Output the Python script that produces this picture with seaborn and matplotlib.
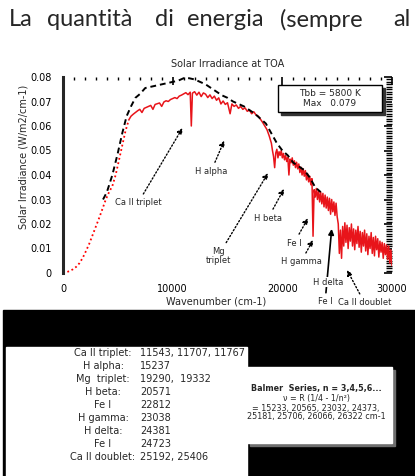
import numpy as np
import pandas as pd
import seaborn as sns
import matplotlib.pyplot as plt
from matplotlib.patches import Rectangle
from matplotlib.ticker import MultipleLocator

# spettro solare misurato (parte bassa, punteggiata)
red_lo_wn = [0, 300, 600, 900, 1200, 1500, 1800, 2100, 2400, 2700, 3000,
             3300, 3600, 3900, 4200, 4500, 4800, 5100, 5400, 5700, 6000]
red_lo_irr = [0.0, 0.0003, 0.0008, 0.0015, 0.0025, 0.0040, 0.0062, 0.0090,
              0.0120, 0.0155, 0.0190, 0.0225, 0.0262, 0.0300, 0.0330, 0.0355,
              0.0400, 0.0460, 0.0520, 0.0580, 0.0625]

# spettro solare misurato (parte continua)
red_wn = [6000, 6200, 6400, 6600, 6800, 7000, 7200, 7400, 7600, 7800,
          8000, 8200, 8400, 8600, 8800, 9000, 9200, 9400, 9600, 9800,
          10000, 10200, 10400, 10600, 10800, 11000, 11200, 11400, 11600, 11700,
          11800, 12000, 12200, 12400, 12600, 12800, 13000, 13200, 13400, 13600,
          13800, 14000, 14200, 14400, 14600, 14800, 15000, 15237, 15400, 15600,
          15800, 16000, 16200, 16400, 16600, 16800, 17000, 17200, 17400, 17600,
          17800, 18000, 18200, 18400, 18600, 18800, 19000,
          19100, 19200, 19300, 19400, 19500, 19600, 19700, 19800, 19900, 20000,
          20100, 20200, 20300, 20400, 20500, 20600, 20700, 20800, 20900, 21000,
          21100, 21200, 21300, 21400, 21500, 21600, 21700, 21800, 21900, 22000,
          22100, 22200, 22300, 22400, 22500, 22600, 22700, 22800, 22900, 23000,
          23100, 23200, 23300, 23400, 23500, 23600, 23700, 23800, 23900, 24000,
          24100, 24200, 24300, 24400, 24500, 24600, 24700, 24800, 24900, 25000,
          25100, 25200, 25300, 25400, 25500, 25600, 25700, 25800, 25900, 26000,
          26100, 26200, 26300, 26400, 26500, 26600, 26700, 26800, 26900, 27000,
          27100, 27200, 27300, 27400, 27500, 27600, 27700, 27800, 27900, 28000,
          28100, 28200, 28300, 28400, 28500, 28600, 28700, 28800, 28900, 29000,
          29100, 29200, 29300, 29400, 29500, 29600, 29700, 29800, 29900, 30000]
red_irr = [0.0625, 0.0640, 0.0648, 0.0655, 0.0662, 0.0668, 0.0655, 0.0672, 0.0676, 0.0680,
           0.0684, 0.0668, 0.0688, 0.0691, 0.0694, 0.0680, 0.0698, 0.0703, 0.0700, 0.0708,
           0.0712, 0.0716, 0.0712, 0.0722, 0.0726, 0.0731, 0.0736, 0.0728, 0.0738, 0.0600,
           0.0734, 0.0740, 0.0726, 0.0738, 0.0720, 0.0735, 0.0730, 0.0716, 0.0727, 0.0712,
           0.0722, 0.0705, 0.0715, 0.0690, 0.0702, 0.0688, 0.0695, 0.0650, 0.0690, 0.0680,
           0.0686, 0.0672, 0.0680, 0.0668, 0.0674, 0.0660, 0.0665, 0.0650, 0.0658, 0.0645,
           0.0640, 0.0628, 0.0615, 0.0600, 0.0585, 0.0560, 0.0530,
           0.0500, 0.0475, 0.0430, 0.0490, 0.0505, 0.0470, 0.0495, 0.0480, 0.0500, 0.0470,
           0.0488, 0.0462, 0.0480, 0.0455, 0.0472, 0.0400, 0.0465, 0.0450, 0.0470, 0.0440,
           0.0458, 0.0430, 0.0452, 0.0425, 0.0445, 0.0410, 0.0432, 0.0400, 0.0425, 0.0395,
           0.0418, 0.0380, 0.0405, 0.0372, 0.0395, 0.0360, 0.0385, 0.0150, 0.0340, 0.0310,
           0.0345, 0.0300, 0.0335, 0.0290, 0.0330, 0.0282, 0.0325, 0.0270, 0.0318, 0.0265,
           0.0310, 0.0255, 0.0305, 0.0240, 0.0300, 0.0250, 0.0290, 0.0235, 0.0285, 0.0230,
           0.0200, 0.0080, 0.0175, 0.0060, 0.0190, 0.0110, 0.0205, 0.0125, 0.0195, 0.0100,
           0.0185, 0.0130, 0.0200, 0.0110, 0.0180, 0.0095, 0.0175, 0.0120, 0.0190, 0.0105,
           0.0170, 0.0085, 0.0165, 0.0110, 0.0175, 0.0090, 0.0160, 0.0075, 0.0150, 0.0100,
           0.0165, 0.0080, 0.0145, 0.0070, 0.0150, 0.0095, 0.0140, 0.0065, 0.0130, 0.0085,
           0.0125, 0.0060, 0.0120, 0.0075, 0.0115, 0.0055, 0.0110, 0.0040, 0.0095, 0.0030]

# corpo nero (tratteggiato nero)
bb_wn = [3650, 4000, 4500, 5000, 5400, 5800, 6200, 6600, 7000, 7500,
         8000, 8500, 9000, 9500, 10000, 10500, 11000, 11500, 12000, 12500,
         13000, 13500, 14000, 14500, 15000, 15500, 16000, 16500, 17000, 17500,
         18000, 18500, 19000, 19500, 20000, 20500, 21000, 21500, 22000, 22500,
         23000, 23500]
bb_irr = [0.030, 0.033, 0.040, 0.049, 0.057, 0.064, 0.068, 0.0715, 0.073, 0.0755,
          0.076, 0.0765, 0.077, 0.0775, 0.078, 0.0785, 0.0795, 0.0795, 0.079, 0.078,
          0.077, 0.0755, 0.074, 0.0725, 0.0715, 0.070, 0.069, 0.068, 0.0665, 0.065,
          0.063, 0.061, 0.057, 0.053, 0.050, 0.048, 0.045, 0.0435, 0.042, 0.039,
          0.035, 0.033]

yticks = [0, 0.01, 0.02, 0.03, 0.04, 0.05, 0.06, 0.07, 0.08]
ytick_labels = ["0", "0.01", "0.02", "0.03", "0.04", "0.05", "0.06", "0.07", "0.08"]
xticks = [0, 10000, 20000, 30000]
xtick_labels = ["0", "10000", "20000", "30000"]

# tabella righe spettrali
line_names = ["Ca II triplet:", "H alpha:", "Mg  triplet:", "H beta:", "Fe I",
              "H gamma:", "H delta:", "Fe I", "Ca II doublet:"]
line_values = ["11543, 11707, 11767", "15237", "19290,  19332", "20571", "22812",
               "23038", "24381", "24723", "25192, 25406"]

balmer_text = ["Balmer  Series, n = 3,4,5,6...",
               "\u03bd = R (1/4 - 1/n\u00b2)",
               "= 15233, 20565, 23032, 24373,",
               "25181, 25706, 26066, 26322 cm-1"]

sns.set_style("white")
plt.rcParams['font.family'] = ['DejaVu Sans']

W, H = 415, 476
fig = plt.figure(figsize=(W / 100, H / 100), dpi=100)


def fx(px):
    return px / W


def fy(py):
    return 1 - py / H


# testo del libro in alto
words = ["La", "quantità", "di", "energia", "(sempre", "al"]
word_x = [9, 47, 155, 187, 280, 393]
for w, x in zip(words, word_x):
    fig.text(fx(x), fy(20), w, fontsize=17, family='Lato', va='center', ha='left')

ax = fig.add_axes([fx(63), fy(273), fx(392) - fx(63), fy(77) - fy(273)])

sns.lineplot(x=red_lo_wn, y=red_lo_irr, estimator=None, sort=False, color='red',
             lw=1.3, linestyle=(0, (1, 1.5)), ax=ax)
sns.lineplot(x=red_wn, y=red_irr, estimator=None, sort=False, color='#e8141a',
             lw=1.1, ax=ax)
sns.lineplot(x=bb_wn, y=bb_irr, estimator=None, sort=False, color='black',
             lw=1.4, linestyle=(0, (3, 2)), ax=ax)

ax.set_xlim(0, 30000)
ax.set_ylim(0, 0.08)
ax.set_xticks(xticks)
ax.set_xticklabels(xtick_labels, fontsize=7)
ax.set_yticks(yticks)
ax.set_yticklabels(ytick_labels, fontsize=7)
ax.xaxis.set_minor_locator(MultipleLocator(1000))
ax.yaxis.set_minor_locator(MultipleLocator(0.001))
ax.tick_params(which='both', direction='in', top=True, right=True, colors='black')
ax.tick_params(which='major', length=6, width=1.2, pad=8)
ax.tick_params(which='minor', length=2, width=1)
ax.tick_params(axis='y', which='minor', length=4)
for s in ['top', 'right', 'bottom']:
    ax.spines[s].set_visible(False)
ax.spines['left'].set_linewidth(2.2)
ax.set_xlabel("")
ax.set_ylabel("")
ax.set_title("Solar Irradiance at TOA", fontsize=7, pad=7)

fig.text(fx(24), fy(157), "Solar Irradiance (W/m2/cm-1)", rotation=90,
         fontsize=7, ha='center', va='center')
fig.text(fx(216), fy(302), "Wavenumber (cm-1)", fontsize=7, ha='center', va='center')

# riquadro legenda
fig.add_artist(Rectangle((fx(281), fy(115)), fx(104), fy(0) - fy(27),
                         transform=fig.transFigure, color='#333333', zorder=5))
fig.add_artist(Rectangle((fx(278), fy(112)), fx(104), fy(0) - fy(27),
                         transform=fig.transFigure, facecolor='white',
                         edgecolor='black', lw=1, zorder=6))
fig.text(fx(330), fy(93), "Tbb = 5800 K", fontsize=6.5, ha='center', va='center', zorder=7)
fig.text(fx(330), fy(104), "Max   0.079", fontsize=6.5, ha='center', va='center', zorder=7)

# frecce sulle righe
arr = dict(arrowstyle='-|>', linestyle=(0, (1, 1.5)), color='black', lw=1,
           mutation_scale=8, shrinkA=1, shrinkB=0)
notes = [
    ("Ca II triplet", (10900, 0.0592), (6840, 0.0286)),
    ("H alpha", (14700, 0.0540), (13500, 0.0415)),
    ("Mg\ntriplet", (18700, 0.0408), (14140, 0.0069)),
    ("H beta", (20150, 0.0343), (18700, 0.0224)),
    ("Fe I", (22340, 0.0224), (21070, 0.0122)),
    ("H gamma", (22800, 0.0135), (21700, 0.0045)),
    ("Ca II doublet", (25900, 0.0012), (27500, -0.0122)),
]
for label, head, txt in notes:
    ax.annotate(label, xy=head, xytext=txt, fontsize=6, ha='center', va='center',
                arrowprops=arr, annotation_clip=False, linespacing=1.0)

ax.annotate("Fe I", xy=(24500, 0.0180), xytext=(23900, -0.0118), fontsize=6,
            ha='center', va='center', annotation_clip=False,
            arrowprops=dict(arrowstyle='-|>', color='black', lw=1.2,
                            mutation_scale=8, shrinkA=1, shrinkB=0))
ax.text(24170, -0.0037, "H delta", fontsize=6, ha='center', va='center', clip_on=False,
        bbox=dict(facecolor='white', edgecolor='none', pad=0.5))

# pannello nero in basso con tabella
fig.add_artist(Rectangle((fx(3), 0), fx(412), fy(310), transform=fig.transFigure,
                         color='black', zorder=1))
fig.add_artist(Rectangle((fx(6), 0), fx(241), fy(347), transform=fig.transFigure,
                         color='white', zorder=2))
for i, (name, val) in enumerate(zip(line_names, line_values)):
    yy = fy(353 + 13 * i)
    fig.text(fx(103), yy, name, fontsize=7, ha='center', va='center', zorder=3)
    fig.text(fx(140), yy, val, fontsize=7, ha='left', va='center', zorder=3)

fig.add_artist(Rectangle((fx(250), fy(446)), fx(145), fy(0) - fy(76),
                         transform=fig.transFigure, color='#6e6e6e', zorder=3))
fig.add_artist(Rectangle((fx(247), fy(443)), fx(145), fy(0) - fy(76),
                         transform=fig.transFigure, color='white', zorder=4))
balmer_y = [389, 399, 408, 417]
for t, yb in zip(balmer_text, balmer_y):
    fig.text(fx(316), fy(yb), t, fontsize=5.8, ha='center', va='center', zorder=5,
             weight='bold' if t.startswith("Balmer") else 'normal')

plt.savefig("out.png", dpi=100)
